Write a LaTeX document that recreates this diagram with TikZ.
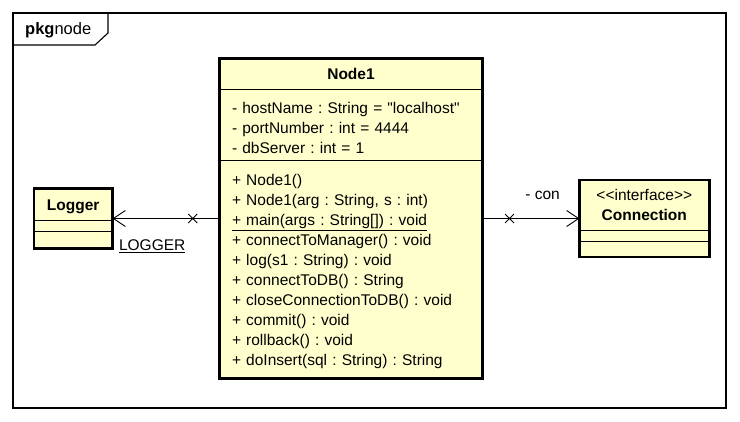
\documentclass[tikz,border=0pt]{standalone}
\usepackage{fontspec}
\newfontfamily\umlfont{Liberation Sans}
\usepackage{tikz}
\usetikzlibrary{shapes, arrows.meta, positioning, shapes.multipart, shapes.misc}
\definecolor{umlyellow}{RGB}{255,255,206}

\begin{document}
\begin{tikzpicture}[
            x=1pt, y=1pt,
            classbox/.style={
                rectangle split, rectangle split parts=3,
                draw=black, fill=umlyellow, line width=0.8pt,
                inner xsep=12pt, inner ysep=0pt, align=left,
                font=\umlfont\fontsize{15.5}{20}\selectfont\frenchspacing
            },
            classframe/.style={draw=black, line width=2.6pt},
            assoc/.style={line width=0.9pt, -{Straight Barb[length=12pt, width=16pt]}},
            crossmark/.style={cross out, draw=black, line width=0.9pt, minimum size=8pt, inner sep=0pt},
            lbl/.style={font=\umlfont\fontsize{15.5}{18}\selectfont, inner sep=0pt},
            pkgframe/.style={draw=black, line width=1.1pt}
        ]
            \useasboundingbox (0,0) rectangle (740,-421);
            % package frame
            \draw[pkgframe] (13,-13) rectangle (726,-408);
            \draw[pkgframe] (13,-45) -- (95,-45) -- (108,-33) -- (108,-13);
            \node[lbl, anchor=west, font=\umlfont\fontsize{16.5}{18}\selectfont] (pkglabel) at (25,-30) {\textbf{pkg}node};

            \node[classbox, text width=238pt] (node1) at (351,-218.5) {
                \nodepart{one} \rule[-10pt]{0pt}{30pt}\makebox[\linewidth]{\textbf{Node1}}
                \nodepart{two}
                \rule{0pt}{23pt}- hostName : String = "localhost"\\
                - portNumber : int = 4444\\
                - dbServer : int = 1\rule[-7pt]{0pt}{7pt}
                \nodepart{three}
                \rule{0pt}{25pt}+ Node1()\\
                + Node1(arg : String, s : int)\\
                \underline{+ main(args : String[]) : void}\\
                + connectToManager() : void\\
                + log(s1 : String) : void\\
                + connectToDB() : String\\
                + closeConnectionToDB() : void\\
                + commit() : void\\
                + rollback() : void\\
                + doInsert(sql : String) : String\rule[-12pt]{0pt}{12pt}
            };
            \node[classbox, text width=54pt, left=107pt of node1] (logger) {
                \nodepart{one} \rule[-10pt]{0pt}{31pt}\makebox[\linewidth]{\textbf{Logger}}
                \nodepart{two} \rule{0pt}{10pt}
                \nodepart{three} \rule{0pt}{16pt}
            };
            \node[classbox, text width=105pt, right=97pt of node1] (conn) {
                \nodepart{one} \rule{0pt}{20pt}\makebox[\linewidth]{<<interface>>}\\
                \makebox[\linewidth]{\textbf{Connection}}\rule[-9pt]{0pt}{9pt}
                \nodepart{two} \rule{0pt}{10pt}
                \nodepart{three} \rule{0pt}{15pt}
            };
            \foreach \cls in {node1, logger, conn}
                \draw[classframe] (\cls.south west) rectangle (\cls.north east);

            % associations
            \draw[assoc] (node1.west) -- node[crossmark, pos=0.25] (xlog) {}
                node[lbl, below=21pt, pos=0.63] (loggerrole) {\underline{LOGGER}} (logger.east);
            \draw[assoc] (node1.east) -- node[crossmark, pos=0.28] (xcon) {}
                node[lbl, above=18pt, pos=0.62] (conrole) {- con} (conn.west);
        \end{tikzpicture}
\end{document}
